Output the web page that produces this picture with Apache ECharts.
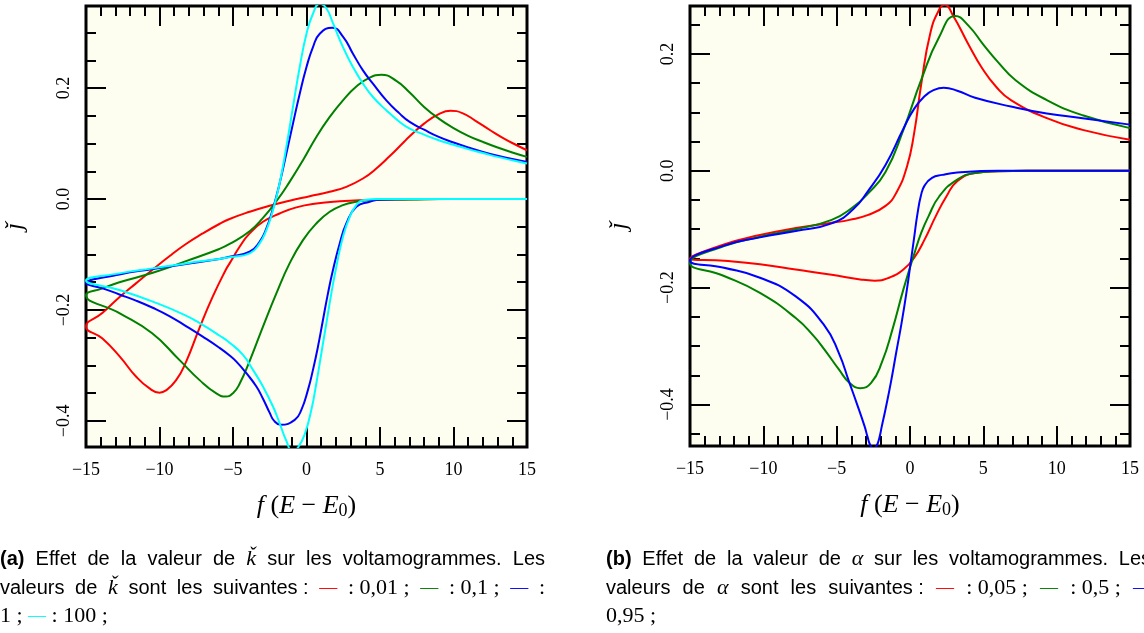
<!DOCTYPE html>
<html><head><meta charset="utf-8">
<script src="https://cdn.jsdelivr.net/npm/echarts@6/dist/echarts.min.js"></script>
<style>html,body{margin:0;padding:0;background:#fff}#c{width:1144px;height:633px}</style>
</head><body><div id="c"></div>
<script>
// ---------- Panel (a): effect of k ----------
// each branch: [x, j] pairs; reduction scan (x from 15 to -15), then oxidation scan (-15 to 15)
const a_k001_red = [[15,0],[10,0],[6,-0.001],[3.84,-0.002],[2.26,-0.004],[0.67,-0.008],[-0.69,-0.015],[-1.83,-0.026],[-2.96,-0.041],[-3.87,-0.062],[-4.55,-0.086],[-5.23,-0.116],[-5.48,-0.127],[-6.38,-0.176],[-7.29,-0.233],[-8.2,-0.294],[-8.88,-0.327],[-9.56,-0.345],[-10.0,-0.349],[-10.7,-0.341],[-11.6,-0.320],[-12.7,-0.284],[-13.9,-0.251],[-15,-0.230]];
const a_k001_ox = [[-15,-0.230],[-13.87,-0.205],[-12.73,-0.177],[-11.6,-0.152],[-10.46,-0.127],[-9.33,-0.103],[-8.2,-0.081],[-7.06,-0.062],[-5.93,-0.045],[-5.23,-0.036],[-3.87,-0.023],[-2.51,-0.012],[-1.15,-0.003],[0.22,0.005],[1.58,0.013],[2.71,0.022],[3.84,0.037],[4.75,0.055],[5.65,0.077],[6.56,0.101],[7.02,0.113],[8,0.136],[9,0.153],[9.8,0.159],[10.6,0.155],[11.5,0.141],[12.5,0.124],[13.5,0.108],[14.3,0.097],[15,0.088]];
const a_k01_red = [[15,0],[9,0],[7,-0.001],[5.2,-0.001],[4.3,-0.002],[3.39,-0.005],[2.48,-0.011],[1.58,-0.023],[0.67,-0.044],[-0.24,-0.074],[-1.15,-0.116],[-2.05,-0.170],[-2.96,-0.230],[-3.87,-0.292],[-4.55,-0.333],[-5.0,-0.350],[-5.5,-0.356],[-6.16,-0.350],[-7.29,-0.326],[-8.65,-0.290],[-10.5,-0.242],[-12.7,-0.206],[-15,-0.173]];
const a_k01_ox = [[-15,-0.173],[-13.87,-0.161],[-12.73,-0.150],[-10.46,-0.133],[-8.2,-0.112],[-5.93,-0.090],[-5.23,-0.081],[-3.87,-0.058],[-2.96,-0.034],[-2.05,-0.004],[-1.15,0.031],[-0.24,0.070],[0.67,0.112],[1.58,0.148],[2.48,0.178],[3.39,0.203],[4.3,0.219],[5.09,0.224],[6.11,0.213],[7.02,0.192],[8,0.166],[9,0.145],[10,0.128],[11,0.114],[12,0.103],[13,0.093],[14,0.084],[15,0.076]];
const a_k1_red = [[15,0],[7,0],[5,-0.001],[4.3,-0.005],[3.39,-0.014],[2.71,-0.044],[2.26,-0.080],[1.80,-0.128],[1.46,-0.170],[1.12,-0.218],[0.78,-0.266],[0.44,-0.308],[0.10,-0.344],[-0.35,-0.380],[-0.8,-0.398],[-1.75,-0.407],[-2.2,-0.400],[-2.51,-0.385],[-2.96,-0.360],[-3.41,-0.338],[-4.09,-0.314],[-4.77,-0.293],[-5.23,-0.282],[-5.93,-0.268],[-7.06,-0.248],[-8.2,-0.229],[-9.33,-0.211],[-10.46,-0.196],[-11.6,-0.183],[-12.73,-0.172],[-13.87,-0.161],[-15,-0.152]];
const a_k1_ox = [[-15,-0.152],[-12.73,-0.136],[-10.46,-0.126],[-8.2,-0.117],[-5.93,-0.108],[-5.23,-0.104],[-3.87,-0.095],[-3.19,-0.077],[-2.73,-0.053],[-2.28,-0.017],[-1.83,0.028],[-1.37,0.082],[-0.92,0.136],[-0.46,0.190],[0,0.238],[0.44,0.274],[0.9,0.298],[1.75,0.309],[2.48,0.293],[3.16,0.262],[3.84,0.232],[4.52,0.208],[5.43,0.178],[6.34,0.154],[7.02,0.139],[8,0.125],[9,0.112],[10,0.102],[11,0.093],[12,0.085],[13,0.078],[14,0.072],[15,0.067]];
const a_k100_red = [[15,0],[7,0],[4.98,0],[3.84,-0.002],[3.39,-0.011],[2.94,-0.032],[2.48,-0.068],[2.03,-0.122],[1.69,-0.170],[1.35,-0.224],[1.01,-0.278],[0.67,-0.332],[0.33,-0.380],[-0.12,-0.424],[-0.58,-0.448],[-0.95,-0.455],[-1.37,-0.436],[-1.83,-0.404],[-2.28,-0.374],[-2.96,-0.338],[-3.64,-0.308],[-4.32,-0.281],[-5.23,-0.259],[-5.93,-0.246],[-7.06,-0.227],[-8.2,-0.210],[-10.46,-0.185],[-12.73,-0.164],[-15,-0.147]];
const a_k100_ox = [[-15,-0.147],[-12.73,-0.134],[-10.46,-0.125],[-8.2,-0.116],[-5.93,-0.108],[-5.23,-0.105],[-3.87,-0.098],[-3.19,-0.080],[-2.73,-0.056],[-2.28,-0.020],[-1.83,0.028],[-1.37,0.094],[-0.92,0.166],[-0.46,0.238],[0,0.298],[0.44,0.334],[0.9,0.352],[1.35,0.344],[1.8,0.317],[2.48,0.274],[3.16,0.238],[3.84,0.208],[4.52,0.184],[5.43,0.160],[6.34,0.139],[7.02,0.127],[8,0.116],[9,0.106],[10,0.098],[11,0.090],[12,0.083],[13,0.076],[14,0.070],[15,0.064]];

// ---------- Panel (b): effect of alpha ----------
const b_a005_red = [[15,0],[8,0],[6,-0.001],[4.44,-0.004],[3.22,-0.018],[2.48,-0.044],[1.75,-0.078],[1.01,-0.117],[0.28,-0.149],[-0.45,-0.169],[-1.43,-0.183],[-2.41,-0.188],[-3.39,-0.186],[-5.34,-0.178],[-7.79,-0.169],[-10.23,-0.160],[-12.68,-0.154],[-15,-0.150]];
const b_a005_ox = [[-15,-0.150],[-12.68,-0.126],[-10.23,-0.110],[-7.79,-0.098],[-5.34,-0.089],[-4.12,-0.084],[-2.9,-0.076],[-1.67,-0.060],[-0.94,-0.038],[-0.21,0.007],[0.28,0.064],[0.77,0.149],[1.38,0.235],[1.99,0.276],[2.36,0.284],[2.97,0.264],[3.95,0.218],[4.93,0.175],[5.9,0.143],[6.88,0.121],[9.33,0.090],[11.77,0.070],[15,0.053]];
const b_a05_red = [[15,0],[8,0],[6,-0.001],[4.44,-0.004],[3.22,-0.015],[1.99,-0.044],[1.26,-0.078],[0.77,-0.106],[0.28,-0.143],[-0.45,-0.203],[-1.19,-0.271],[-1.92,-0.328],[-2.65,-0.363],[-3.39,-0.372],[-4.12,-0.363],[-4.85,-0.340],[-5.83,-0.306],[-6.56,-0.283],[-7.79,-0.252],[-10.23,-0.209],[-12.68,-0.180],[-15,-0.158]];
const b_a05_ox = [[-15,-0.158],[-12.68,-0.129],[-10.23,-0.113],[-7.79,-0.100],[-5.34,-0.084],[-3.88,-0.062],[-2.9,-0.040],[-1.67,-0.002],[-0.45,0.070],[0.77,0.156],[1.99,0.229],[3.09,0.265],[4.0,0.248],[5.0,0.216],[6.0,0.186],[7.2,0.155],[9.33,0.121],[11.77,0.095],[15,0.073]];
const b_a095_red = [[15,0],[6,0],[3.22,-0.003],[2.2,-0.007],[1.5,-0.012],[1.0,-0.025],[0.75,-0.042],[0.5,-0.075],[0.28,-0.115],[0.04,-0.158],[-0.21,-0.203],[-0.57,-0.260],[-0.94,-0.311],[-1.31,-0.363],[-1.67,-0.408],[-1.92,-0.437],[-2.1,-0.458],[-2.3,-0.472],[-2.5,-0.476],[-2.7,-0.470],[-2.9,-0.455],[-3.1,-0.437],[-3.63,-0.398],[-4.17,-0.360],[-4.85,-0.312],[-5.83,-0.265],[-7.79,-0.215],[-10.23,-0.183],[-12.68,-0.166],[-15,-0.154]];
const b_a095_ox = [[-15,-0.154],[-12.68,-0.128],[-10.23,-0.114],[-7.79,-0.103],[-5.34,-0.090],[-3.88,-0.066],[-2.9,-0.036],[-1.67,0.010],[-0.45,0.072],[0.28,0.106],[1.01,0.128],[1.6,0.138],[2.3,0.142],[3.22,0.137],[4.44,0.125],[6.88,0.110],[9.33,0.098],[11.77,0.090],[15,0.079]];

// ---------- axes ticks ----------
const xMin = -15, xMax = 15, xStep = 5;
const a_yRange = [-0.447, 0.348];
const b_yRange = [-0.471, 0.282];
const a_yMajor = [-0.4, -0.2, 0, 0.2];
const a_yMinor = [-0.35, -0.3, -0.25, -0.15, -0.1, -0.05, 0.05, 0.1, 0.15, 0.25, 0.3];
const b_yMajor = [-0.4, -0.2, 0, 0.2];
const b_yMinor = [-0.45, -0.35, -0.3, -0.25, -0.15, -0.1, -0.05, 0.05, 0.1, 0.15, 0.25];

// ---------- captions ----------
const S = null; // stretchable (justified) space
const capA = [
  [['b','(a)'],S,['n','Effet'],S,['n','de'],S,['n','la'],S,['n','valeur'],S,['n','de'],S,['m','\u01E9'],S,['n','sur'],S,['n','les'],S,['n','voltamogrammes.'],S,['n','Les']],
  [['n','valeurs'],S,['n','de'],S,['m','\u01E9'],S,['n','sont'],S,['n','les'],S,['n','suivantes :'],S,['r','\u2014'],S,['d',': 0,01 ;'],S,['g','\u2014'],S,['d',': 0,1 ;'],S,['bl','\u2014'],S,['d',':']],
  [['d','1 ; '],['c','\u2014'],['d',' : 100 ;']]
];
const capB = [
  [['b','(b)'],S,['n','Effet'],S,['n','de'],S,['n','la'],S,['n','valeur'],S,['n','de'],S,['m','\u03B1'],S,['n','sur'],S,['n','les'],S,['n','voltamogrammes.'],S,['n','Les']],
  [['n','valeurs'],S,['n','de'],S,['m','\u03B1'],S,['n','sont'],S,['n','les'],S,['n','suivantes :'],S,['r','\u2014'],S,['d',': 0,05 ;'],S,['g','\u2014'],S,['d',': 0,5 ;'],S,['bl','\u2014']],
  [['d','0,95 ;']]
];

const colors = {red:'#ff0000', green:'#008000', blue:'#0000ff', cyan:'#00ffff'};
const SERIF = '"Liberation Serif","DejaVu Serif",serif';
const SANS = '"Liberation Sans","DejaVu Sans",sans-serif';
const minus = s => String(s).replace('-', '\u2212');

const tickStyle = {color:'#000', width:2};
function xAxes(g) {
  const base = {type:'value', gridIndex:g, min:xMin, max:xMax, interval:xStep,
    axisLine:{show:false, onZero:false}, splitLine:{show:false}, minorSplitLine:{show:false},
    axisTick:{inside:true, length:20, lineStyle:tickStyle},
    minorTick:{show:true, splitNumber:5, length:10, lineStyle:tickStyle}};
  return [
    Object.assign({}, base, {position:'bottom',
      axisLabel:{show:true, margin:14, color:'#000', fontFamily:SERIF, fontSize:18, showMinLabel:true, showMaxLabel:true,
        formatter: v => minus(v)},
      name:'{i|f} ({i|E} \u2212 {i|E}{s|0})', nameLocation:'middle', nameGap:46,
      nameTextStyle:{color:'#000', fontFamily:SERIF, fontSize:26,
        rich:{i:{fontFamily:SERIF, fontStyle:'italic', fontSize:26, color:'#000'},
              s:{fontFamily:SERIF, fontSize:18, color:'#000', verticalAlign:'bottom', padding:[9,0,0,0]}}}}),
    Object.assign({}, base, {position:'top', axisLabel:{show:false}})
  ];
}
function yAxes(g, range, major, minor) {
  const base = {type:'value', gridIndex:g, min:range[0], max:range[1],
    axisLine:{show:false, onZero:false}, splitLine:{show:false}, minorTick:{show:false}};
  return [
    Object.assign({}, base, {position:'left',
      axisTick:{inside:true, length:20, customValues:major, lineStyle:tickStyle},
      axisLabel:{show:true, customValues:major, rotate:90, margin:13, color:'#000', fontFamily:SERIF, fontSize:18,
        formatter: v => minus(Number(v).toFixed(1))},
      name:'\u01F0', nameLocation:'middle', nameGap:58, nameRotate:90,
      nameTextStyle:{color:'#000', fontFamily:SERIF, fontStyle:'italic', fontSize:26}}),
    Object.assign({}, base, {position:'left', axisTick:{inside:true, length:10, customValues:minor, lineStyle:tickStyle}, axisLabel:{show:false}}),
    Object.assign({}, base, {position:'right', axisTick:{inside:true, length:20, customValues:major, lineStyle:tickStyle}, axisLabel:{show:false}}),
    Object.assign({}, base, {position:'right', axisTick:{inside:true, length:10, customValues:minor, lineStyle:tickStyle}, axisLabel:{show:false}})
  ];
}
function loop(name, red, ox, color, xi, yi) {
  return {type:'line', name, data: red.concat(ox), xAxisIndex:xi, yAxisIndex:yi,
    showSymbol:false, symbol:'none', smooth:0.5, clip:true, animation:false,
    lineStyle:{color, width:2}, z:3};
}

const gridStyle = {show:true, backgroundColor:'#fefef0', borderColor:'#000', borderWidth:3};
const baseRich = {
  b:{fontFamily:SANS, fontWeight:'bold', fontSize:20, color:'#000'},
  n:{fontFamily:SANS, fontWeight:'normal', fontSize:20, color:'#000'},
  m:{fontFamily:SERIF, fontStyle:'italic', fontWeight:'normal', fontSize:22, color:'#000'},
  d:{fontFamily:SERIF, fontWeight:'normal', fontSize:22, color:'#000'},
  r:{fontFamily:SERIF, fontWeight:'normal', fontSize:18, color:colors.red},
  g:{fontFamily:SERIF, fontWeight:'normal', fontSize:18, color:colors.green},
  bl:{fontFamily:SERIF, fontWeight:'normal', fontSize:18, color:colors.blue},
  c:{fontFamily:SERIF, fontWeight:'normal', fontSize:18, color:colors.cyan}
};
const mctx = document.createElement('canvas').getContext('2d');
function measure(key, text) {
  const st = baseRich[key];
  mctx.font = (st.fontStyle || 'normal') + ' ' + (st.fontWeight || 'normal') + ' ' + st.fontSize + 'px ' + st.fontFamily;
  return mctx.measureText(text).width;
}
// build a rich string; justified lines get space tokens sized to fill `justify` px
function buildLine(items, justify, key) {
  let w = 0, n = 0;
  items.forEach(it => { if (it === S) n++; else w += measure(it[0], it[1]); });
  const rich = Object.assign({}, baseRich);
  let text = '';
  if (justify && n) {
    rich[key] = {fontFamily:SANS, fontSize:20, width: Math.max(3, (justify - w) / n)};
  }
  items.forEach(it => {
    if (it === S) text += justify ? '{' + key + '| }' : '{n| }';
    else text += '{' + it[0] + '|' + it[1] + '}';
  });
  return {text, rich};
}
const capWidth = 545;
const capTops = [548, 577, 605];
const titles = [];
[[capA, 0], [capB, 606]].forEach(([cap, left], ci) => {
  cap.forEach((items, i) => {
    const L = buildLine(items, i < 2 ? capWidth : 0, 'sp' + ci + i);
    titles.push({text:L.text, left, top:capTops[i], padding:0, textStyle:{fontWeight:'normal', rich:L.rich}});
  });
});

const chart = echarts.init(document.getElementById('c'));
chart.setOption({
  animation:false,
  backgroundColor:'#ffffff',
  title: titles,
  grid:[
    Object.assign({left:86, top:6, width:441, height:441}, gridStyle),
    Object.assign({left:690, top:6, width:440, height:440}, gridStyle)
  ],
  xAxis: xAxes(0).concat(xAxes(1)),
  yAxis: yAxes(0, a_yRange, a_yMajor, a_yMinor).concat(yAxes(1, b_yRange, b_yMajor, b_yMinor)),
  series:[
    loop('k=0,01', a_k001_red, a_k001_ox, colors.red, 0, 0),
    loop('k=0,1', a_k01_red, a_k01_ox, colors.green, 0, 0),
    loop('k=1', a_k1_red, a_k1_ox, colors.blue, 0, 0),
    loop('k=100', a_k100_red, a_k100_ox, colors.cyan, 0, 0),
    loop('a=0,05', b_a005_red, b_a005_ox, colors.red, 2, 4),
    loop('a=0,5', b_a05_red, b_a05_ox, colors.green, 2, 4),
    loop('a=0,95', b_a095_red, b_a095_ox, colors.blue, 2, 4)
  ]
});
</script></body></html>
